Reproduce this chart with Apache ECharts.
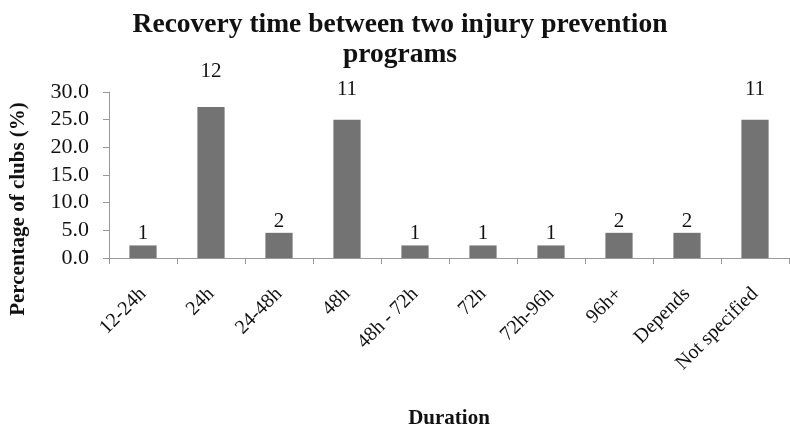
<!DOCTYPE html>
<html><head><meta charset="utf-8">
<script src="https://cdn.jsdelivr.net/npm/echarts@6/dist/echarts.min.js"></script>
<style>html,body{margin:0;padding:0;background:#fff}#c{width:790px;height:430px}</style>
</head><body><div id="c"></div>
<script>
const categories = ['12-24h','24h','24-48h','48h','48h - 72h','72h','72h-96h','96h+','Depends','Not specified'];
const counts = [1,12,2,11,1,1,1,2,2,11];
const percentages = [2.27,27.27,4.55,25.0,2.27,2.27,2.27,4.55,4.55,25.0];

// label placement (style only)
const labelDistance = v => v > 26 ? 25 : (v > 20 ? 20 : 1);

const chart = echarts.init(document.getElementById('c'));
const serif = 'Liberation Serif';
chart.setOption({
  animation:false,
  title:{
    text:'Recovery time between two injury prevention\nprograms',
    left:395, top:5, textAlign:'center',
    textStyle:{fontFamily:serif,fontWeight:'bold',fontSize:27.5,color:'#111',lineHeight:30}
  },
  grid:{left:108,right:1,top:92,bottom:170},
  xAxis:{
    type:'category', data:categories,
    name:'Duration', nameLocation:'middle', nameGap:150,
    nameTextStyle:{fontFamily:serif,fontWeight:'bold',fontSize:21,color:'#111'},
    axisLine:{lineStyle:{color:'#999'}},
    axisTick:{show:true,length:6,lineStyle:{color:'#999'}},
    axisLabel:{rotate:45,fontFamily:serif,fontSize:20,color:'#111',margin:33,interval:0}
  },
  yAxis:{
    type:'value', min:0, max:30, interval:5,
    name:'Percentage of clubs (%)', nameLocation:'middle', nameGap:80,
    nameTextStyle:{fontFamily:serif,fontWeight:'bold',fontSize:21,color:'#111',padding:[0,68,0,0]},
    axisLine:{show:true,lineStyle:{color:'#999'}},
    axisTick:{show:true,length:6,lineStyle:{color:'#999'}},
    splitLine:{show:false},
    axisLabel:{fontFamily:serif,fontSize:22,color:'#111',margin:20,formatter:v=>v.toFixed(1)}
  },
  series:[{
    type:'bar', barWidth:'40%',
    data:percentages.map(v=>({value:v,label:{distance:labelDistance(v)}})),
    itemStyle:{color:'#737373'},
    label:{show:true,position:'top',fontFamily:serif,fontSize:21,color:'#111',
      formatter:p=>counts[p.dataIndex]}
  }]
});
</script></body></html>
